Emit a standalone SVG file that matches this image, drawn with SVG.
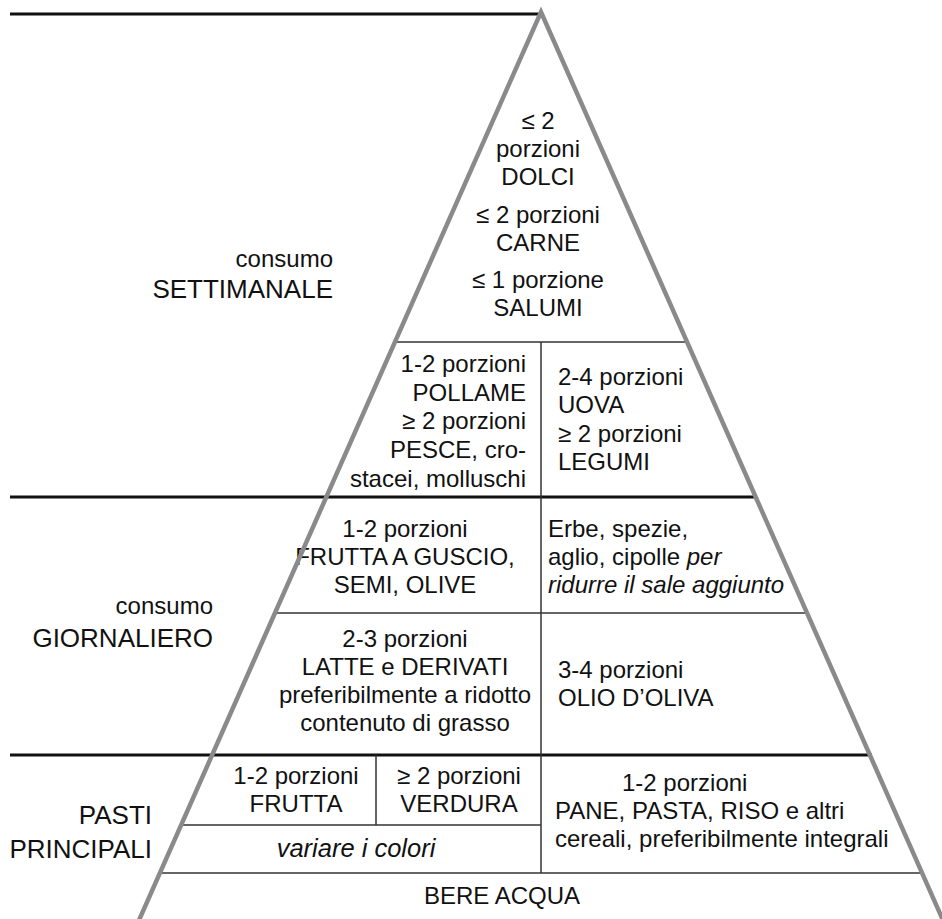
<svg xmlns="http://www.w3.org/2000/svg" width="942" height="919" viewBox="0 0 942 919">
<style>
text{font-family:"Liberation Sans",Arial,sans-serif;font-size:24px;fill:#111}
.m{text-anchor:middle}
.e{text-anchor:end}
.i{font-style:italic}
.lb{font-size:26px}
.thick{stroke:#111;stroke-width:3;fill:none}
.thin{stroke:#333;stroke-width:1.5;fill:none}
.edge{stroke:#8a8a8c;stroke-width:4.5;fill:none;stroke-linejoin:miter}
</style>
<rect width="942" height="919" fill="#fff"/>
<g id="connectors">
<line class="thick" x1="10" y1="14" x2="541" y2="14"/>
<line class="thick" x1="10" y1="497" x2="756" y2="497"/>
<line class="thick" x1="10" y1="755" x2="872" y2="755"/>
<line class="thin" x1="395" y1="342" x2="687" y2="342"/>
<line class="thin" x1="275" y1="613" x2="807" y2="613"/>
<line class="thin" x1="181" y1="825" x2="541" y2="825"/>
<line class="thin" x1="160" y1="873" x2="921" y2="873"/>
<line class="thin" x1="541" y1="342" x2="541" y2="873"/>
<line class="thin" x1="376" y1="755" x2="376" y2="825"/>
</g>
<g id="label-settimanale">
<text class="e" x="333" y="267">consumo</text>
<text class="e lb" x="333" y="298">SETTIMANALE</text>
</g>
<g id="label-giornaliero">
<text class="e" x="213" y="614">consumo</text>
<text class="e lb" x="213" y="647">GIORNALIERO</text>
</g>
<g id="label-pasti">
<text class="e lb" x="152" y="824">PASTI</text>
<text class="e lb" x="152" y="858">PRINCIPALI</text>
</g>
<g id="cell-top">
<text class="m" x="538" y="129">≤ 2</text>
<text class="m" x="538" y="157">porzioni</text>
<text class="m" x="538" y="185">DOLCI</text>
<text class="m" x="538" y="223">≤ 2 porzioni</text>
<text class="m" x="538" y="251">CARNE</text>
<text class="m" x="538" y="288">≤ 1 porzione</text>
<text class="m" x="538" y="316">SALUMI</text>
</g>
<g id="cell-pollame">
<text class="e" x="526" y="372">1-2 porzioni</text>
<text class="e" x="526" y="401">POLLAME</text>
<text class="e" x="526" y="429">≥ 2 porzioni</text>
<text class="e" x="526" y="458">PESCE, cro-</text>
<text class="e" x="526" y="487">stacei, molluschi</text>
</g>
<g id="cell-uova">
<text x="558" y="385">2-4 porzioni</text>
<text x="558" y="413">UOVA</text>
<text x="558" y="442">≥ 2 porzioni</text>
<text x="558" y="470">LEGUMI</text>
</g>
<g id="cell-frutta-guscio">
<text class="m" x="405" y="537">1-2 porzioni</text>
<text class="m" x="405" y="565">FRUTTA A GUSCIO,</text>
<text class="m" x="405" y="593">SEMI, OLIVE</text>
</g>
<g id="cell-erbe">
<text x="548" y="537">Erbe, spezie,</text>
<text x="548" y="565">aglio, cipolle <tspan class="i">per</tspan></text>
<text class="i" x="548" y="593">ridurre il sale aggiunto</text>
</g>
<g id="cell-latte">
<text class="m" x="405" y="647">2-3 porzioni</text>
<text class="m" x="405" y="675">LATTE e DERIVATI</text>
<text class="m" x="405" y="703">preferibilmente a ridotto</text>
<text class="m" x="405" y="731">contenuto di grasso</text>
</g>
<g id="cell-olio">
<text x="558" y="678">3-4 porzioni</text>
<text x="558" y="706">OLIO D’OLIVA</text>
</g>
<g id="cell-frutta">
<text class="m" x="296" y="784">1-2 porzioni</text>
<text class="m" x="296" y="812">FRUTTA</text>
</g>
<g id="cell-verdura">
<text class="m" x="459" y="784">≥ 2 porzioni</text>
<text class="m" x="459" y="812">VERDURA</text>
</g>
<g id="cell-colori">
<text class="m i" x="356" y="857" style="font-size:25.5px">variare i colori</text>
</g>
<g id="cell-cereali">
<text x="622" y="791">1-2 porzioni</text>
<text x="555" y="819">PANE, PASTA, RISO e altri</text>
<text x="555" y="847">cereali, preferibilmente integrali</text>
</g>
<g id="cell-acqua">
<text class="m" x="502" y="904">BERE ACQUA</text>
</g>
<g id="pyramid">
<polyline class="edge" points="136,927 541,12 946,927"/>
</g>
</svg>
